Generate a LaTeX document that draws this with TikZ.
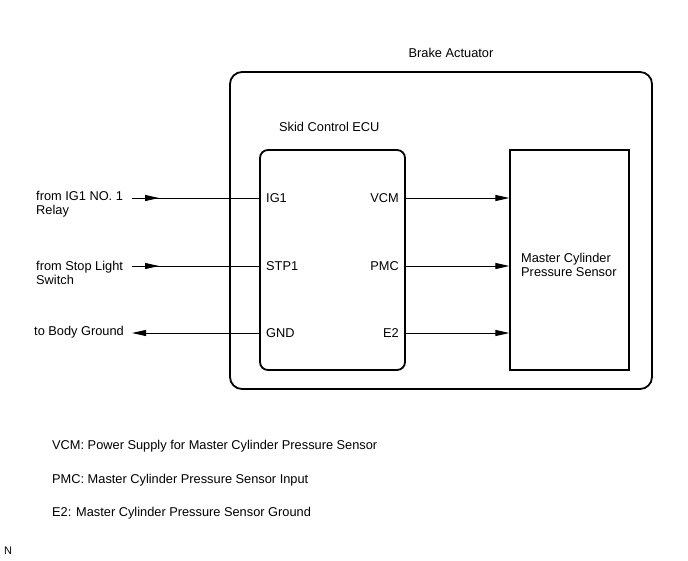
\documentclass[tikz,border=0pt]{standalone}
\usepackage{fontspec}
\setmainfont{Liberation Sans}
\usetikzlibrary{positioning,
                arrows.meta,
                decorations.markings,
                calc}

\begin{document}
\begin{tikzpicture}[x=1pt,y=-1pt,
  font=\fontsize{12.8}{14}\selectfont,
  >={Triangle[length=14pt,width=6pt]},
  txt/.style={inner sep=0pt,align=left},
  wire/.style={line width=1pt},
  midarrow/.style={wire,decoration={markings,mark=at position 27pt with {\arrow{>}}},postaction={decorate}},
  outarrow/.style={wire,->},
  housing/.style={draw,line width=1.8pt,rounded corners=12pt,minimum width=422pt,minimum height=317pt,inner sep=0pt},
  ecubox/.style={draw,line width=1.8pt,rounded corners=8pt,minimum width=145pt,minimum height=220pt,inner sep=0pt},
  sensbox/.style={draw,line width=1.2pt,minimum width=119pt,minimum height=220pt,inner sep=0pt}]
\useasboundingbox (0,0) rectangle (688,560);
% boxes
\node [housing] (act) at (441,230.5) {};
\node [txt] (actlbl) at (451,53) {Brake Actuator};
\node [ecubox] (ecu) at (332.5,260) {};
\node [txt,anchor=west] (eculbl) at (279,127) {Skid Control ECU};
\node [sensbox] (sens) at (569.5,260) {};
\node [txt,anchor=west] (senslbl) at (521,265) {Master Cylinder\\Pressure Sensor};
% ECU terminals
\node [txt,anchor=west] (ig1) at (266,198) {IG1};
\node [txt,anchor=west] (stp1) at (266,266) {STP1};
\node [txt,anchor=west] (gnd) at (266,333) {GND};
\node [txt,anchor=east] (vcm) at (399,198) {VCM};
\node [txt,anchor=east] (pmc) at (399,266) {PMC};
\node [txt,anchor=east] (e2) at (399,333) {E2};
% outside connections
\node [txt,anchor=west] (relay) at (36,204) {from IG1 NO. 1\\Relay};
\node [txt,anchor=west] (stopsw) at (36,273) {from Stop Light\\Switch};
\node [txt,anchor=west] (bodygnd) at (34,332) {to Body Ground};
\coordinate (relayend) at (132,198);
\coordinate (stopend) at (132,266);
\coordinate (gndend) at (132,333);
\draw [midarrow] (relayend) -- (relayend -| ecu.west);
\draw [midarrow] (stopend) -- (stopend -| ecu.west);
\draw [wire,<-] (gndend) -- (gndend -| ecu.west);
\foreach \pin in {vcm,pmc,e2}
\draw [outarrow] (\pin.east -| ecu.east) -- (\pin.east -| sens.west);
% legend
\node [txt,anchor=west] (lgvcm) at (52,446) {VCM: Power Supply for Master Cylinder Pressure Sensor};
\node [txt,anchor=west] (lgpmc) at (52,480) {PMC: Master Cylinder Pressure Sensor Input};
\node [txt,anchor=west] (lge2) at (52,513) {E2: Master Cylinder Pressure Sensor Ground};
\node [txt,anchor=west,font=\fontsize{11}{12}\selectfont] (code) at (4,551) {N};
\end{tikzpicture}
\end{document}
